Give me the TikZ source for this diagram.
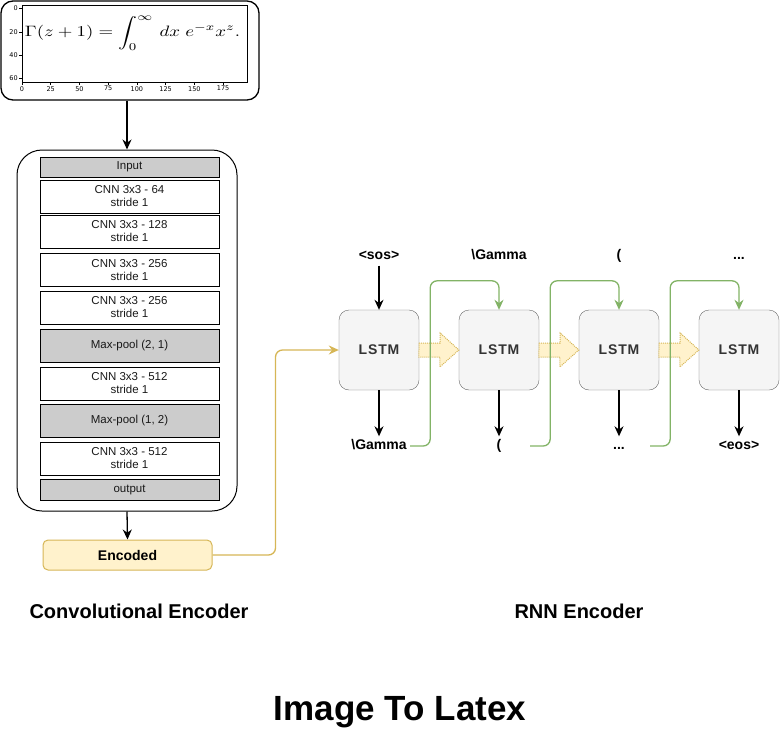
\documentclass[tikz,border=0pt]{standalone}
\usepackage{fontspec}
\setmainfont{Liberation Sans}
\newfontfamily\tickfont{DejaVu Sans}
\newfontfamily\lstmfont[LetterSpace=6]{Liberation Sans}
\usepackage{tikz}
\usetikzlibrary{arrows.meta,calc,positioning}
\definecolor{layergray}{HTML}{CCCCCC}
\definecolor{lstmfill}{HTML}{F5F5F5}
\definecolor{lstmline}{HTML}{666666}
\definecolor{encfill}{HTML}{FFF2CC}
\definecolor{encline}{HTML}{D6B656}
\definecolor{feedgreen}{HTML}{82B366}

\begin{document}
\begin{tikzpicture}[x=1pt, y=-1pt,
		layer/.style={rectangle, draw, line width=1pt, fill=white, minimum width=179pt, minimum height=33pt, inner sep=0pt, align=center, text=black!90, font=\fontsize{11.5}{13}\selectfont},
		pool/.style={layer, fill=layergray},
		lstm/.style={rectangle, rounded corners=10pt, draw=lstmline, fill=lstmfill, minimum size=80pt, text=black!80, font=\lstmfont\bfseries\fontsize{14}{16}\selectfont},
		token/.style={minimum width=62pt, inner sep=3pt, text height=10pt, text depth=3pt, font=\bfseries\fontsize{14}{16}\selectfont},
		title/.style={font=\bfseries\fontsize{20}{24}\selectfont},
		link/.style={->, line width=1.3pt},
		feed/.style={->, draw=feedgreen, line width=1.3pt, rounded corners=7pt},
		state/.style={draw=encline, fill=encfill, densely dotted, line width=1pt},
		>={Stealth[length=10pt, width=9pt]}
		]
	\useasboundingbox (0,0) rectangle (781,752);

	% image en entree
	\node[draw, rounded corners=12pt, line width=1.3pt, minimum width=258pt, minimum height=99pt] (img) at (130,50.5) {};
	\draw[line width=0.5pt] (22,5) rectangle (247,82);
	\foreach \v in {0,20,40,60}
		\draw[line width=0.5pt] (22,8.5+1.167*\v) -- ++(-3,0) node[left, inner sep=1pt, font=\tickfont\fontsize{6.5}{7}\selectfont] {\v};
	\foreach \v in {0,25,...,175}
		\draw[line width=0.5pt] (22+1.149*\v,82) -- ++(0,3) node[below, inner sep=1pt, font=\tickfont\fontsize{6.5}{7}\selectfont] {\v};
	\node[inner sep=0pt] (formula) at (132.5,33) {\resizebox*{215pt}{35pt}{$\displaystyle \Gamma(z+1) = \int_0^\infty \,dx\; e^{-x} x^z.$}};

	% encodeur convolutif
	\node[draw, line width=1pt, rounded corners=25pt, minimum width=220pt, minimum height=361pt] (cnn) at (127,330.5) {};
	\node[pool, minimum height=20pt] (inp) at (129.5,167) {Input};
	\node[layer] (c64) at (129.5,196.5) {CNN 3x3 - 64\\stride 1};
	\node[layer] (c128) at (129.5,231.5) {CNN 3x3 - 128\\stride 1};
	\node[layer] (c256a) at (129.5,270) {CNN 3x3 - 256\\stride 1};
	\node[layer] (c256b) at (129.5,307.5) {CNN 3x3 - 256\\stride 1};
	\node[pool] (mp21) at (129.5,345.5) {Max-pool (2, 1)};
	\node[layer] (c512a) at (129.5,383.5) {CNN 3x3 - 512\\stride 1};
	\node[pool] (mp12) at (129.5,421) {Max-pool (1, 2)};
	\node[layer] (c512b) at (129.5,458.5) {CNN 3x3 - 512\\stride 1};
	\node[pool, minimum height=21pt] (outp) at (129.5,489.5) {output};
	\node[draw=encline, line width=1pt, fill=encfill, rounded corners=5pt, minimum width=169pt, minimum height=30pt, font=\bfseries\fontsize{14}{16}\selectfont] (enc) at (127.5,555) {Encoded};

	\draw[link] (img.south -| cnn.north) -- (cnn.north);
	\draw[link] (cnn.south) -- (enc.north);

	% encodeur RNN
	\node[lstm] (L1) at (379,350) {LSTM};
	\node[lstm] (L2) at (499,350) {LSTM};
	\node[lstm] (L3) at (619,350) {LSTM};
	\node[lstm] (L4) at (739,350) {LSTM};

	\node[token] (sos) at (379,256) {<sos>};
	\node[token] (t2) at (499,256) {\textbackslash Gamma};
	\node[token] (t3) at (619,256) {(};
	\node[token] (t4) at (739,256) {...};
	\node[token] (o1) at (379,446) {\textbackslash Gamma};
	\node[token] (o2) at (499,446) {(};
	\node[token] (o3) at (619,446) {...};
	\node[token] (o4) at (739,446) {<eos>};

	\draw[link] (sos) -- (L1.north);
	\draw[link] (L1.south) -- (o1);
	\draw[link] (L2.south) -- (o2);
	\draw[link] (L3.south) -- (o3);
	\draw[link] (L4.south) -- (o4);

	\draw[state] ($(L1.east)+(0,-7)$) -- ++(21,0) -- ++(0,-10) -- (L2.west) -- ++(-19,17) -- ++(0,-10) -- ++(-21,0) -- cycle;
	\draw[state] ($(L2.east)+(0,-7)$) -- ++(21,0) -- ++(0,-10) -- (L3.west) -- ++(-19,17) -- ++(0,-10) -- ++(-21,0) -- cycle;
	\draw[state] ($(L3.east)+(0,-7)$) -- ++(21,0) -- ++(0,-10) -- (L4.west) -- ++(-19,17) -- ++(0,-10) -- ++(-21,0) -- cycle;

	\draw[feed] (o1.east) -- ++(20,0) |- ([yshift=29pt]L2.north) -- (L2.north);
	\draw[feed] (o2.east) -- ++(20,0) |- ([yshift=29pt]L3.north) -- (L3.north);
	\draw[feed] (o3.east) -- ++(20,0) |- ([yshift=29pt]L4.north) -- (L4.north);
	\draw[->, draw=encline, line width=1.3pt, rounded corners=7pt] (enc.east) -- ++(63,0) |- (L1.west);

	% titres
	\node[title] (cnntitle) at (139,611) {Convolutional Encoder};
	\node[title] (rnntitle) at (579,611) {RNN Encoder};
	\node[font=\bfseries\fontsize{35}{40}\selectfont] (main) at (400,712) {Image To Latex};
\end{tikzpicture}
\end{document}
